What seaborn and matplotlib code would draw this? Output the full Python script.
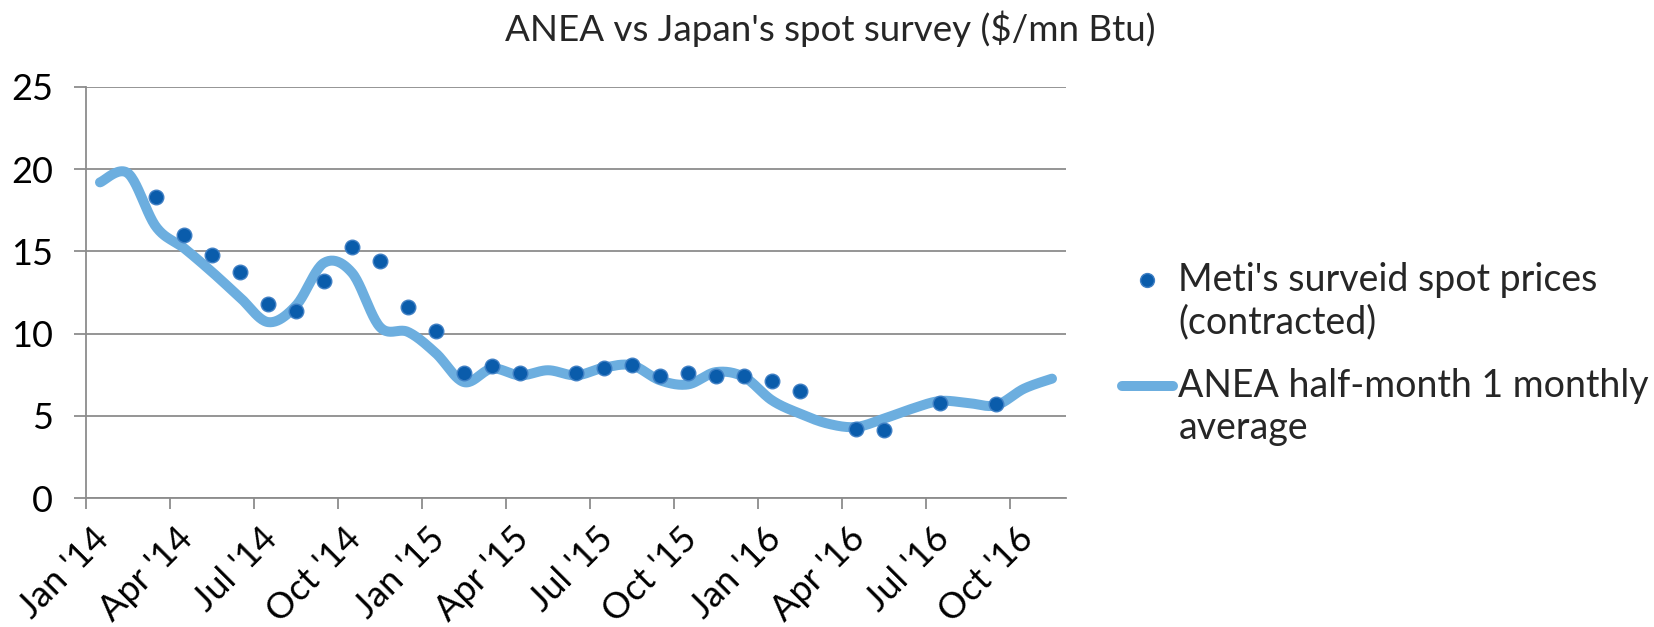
import numpy as np
import pandas as pd
import matplotlib
matplotlib.use("Agg")
import matplotlib.pyplot as plt
import matplotlib.transforms as mtransforms
from matplotlib.lines import Line2D
from matplotlib.legend_handler import HandlerLine2D
import seaborn as sns

# ---------------- data ----------------
month_labels = ["Jan '14", "Feb '14", "Mar '14", "Apr '14", "May '14", "Jun '14",
                "Jul '14", "Aug '14", "Sep '14", "Oct '14", "Nov '14", "Dec '14",
                "Jan '15", "Feb '15", "Mar '15", "Apr '15", "May '15", "Jun '15",
                "Jul '15", "Aug '15", "Sep '15", "Oct '15", "Nov '15", "Dec '15",
                "Jan '16", "Feb '16", "Mar '16", "Apr '16", "May '16", "Jun '16",
                "Jul '16", "Aug '16", "Sep '16", "Oct '16", "Nov '16"]

anea_values = [19.2, 19.75, 16.5, 15.2, 13.75, 12.2, 10.7, 11.7, 14.3, 13.7,
               10.4, 10.1, 8.8, 7.05, 7.87, 7.46, 7.77, 7.46, 7.93, 8.07,
               7.16, 6.91, 7.66, 7.36, 5.94, 5.13, 4.52, 4.32, 4.83, 5.43,
               5.9, 5.78, 5.64, 6.65, 7.26]

meti_values = [None, None, 18.29, 16.0, 14.76, 13.77, 11.78, 11.4, 13.18, 15.29,
               14.4, 11.6, 10.18, 7.6, 8.03, 7.6, None, 7.6, 7.93, 8.11,
               7.4, 7.6, 7.4, 7.4, 7.1, 6.49, None, 4.2, 4.12, None,
               5.8, None, 5.74, None, None]

tick_labels = ["Jan '14", "Apr '14", "Jul '14", "Oct '14", "Jan '15", "Apr '15",
               "Jul '15", "Oct '15", "Jan '16", "Apr '16", "Jul '16", "Oct '16"]

title = "ANEA vs Japan's spot survey ($/mn Btu)"
meti_label = "Meti's surveid spot prices\n(contracted)"
anea_label = "ANEA half-month 1 monthly\naverage"

# ---------------- frame ----------------
pos = np.arange(len(month_labels)) + 0.5   # points sit mid-month on date axis
df = pd.DataFrame({"x": pos, "anea": anea_values,
                   "meti": pd.to_numeric(pd.Series(meti_values), errors="coerce")})


def smooth_curve(x, y, n=24):
    """Excel-like smoothed line (Catmull-Rom / Bezier, tension 1/6)."""
    x = np.asarray(x, float); y = np.asarray(y, float)
    px = np.concatenate([[x[0]], x, [x[-1]]])
    py = np.concatenate([[y[0]], y, [y[-1]]])
    xs, ys = [], []
    t = np.linspace(0, 1, n, endpoint=False)
    for i in range(1, len(px) - 2):
        p0 = np.array([px[i], py[i]]); p3 = np.array([px[i + 1], py[i + 1]])
        c1 = p0 + (np.array([px[i + 1], py[i + 1]]) - np.array([px[i - 1], py[i - 1]])) / 6
        c2 = p3 - (np.array([px[i + 2], py[i + 2]]) - np.array([px[i], py[i]])) / 6
        b = ((1 - t) ** 3)[:, None] * p0 + (3 * (1 - t) ** 2 * t)[:, None] * c1 \
            + (3 * (1 - t) * t ** 2)[:, None] * c2 + (t ** 3)[:, None] * p3
        xs.append(b[:, 0]); ys.append(b[:, 1])
    xs.append([x[-1]]); ys.append([y[-1]])
    return np.concatenate(xs), np.concatenate(ys)


sx, sy = smooth_curve(df["x"], df["anea"])
curve = pd.DataFrame({"x": sx, "y": sy})

# ---------------- plot ----------------
sns.set_theme(style="white")
plt.rcParams["font.family"] = ["Lato", "DejaVu Sans"]

W, H, DPI = 1654, 627, 100
fig = plt.figure(figsize=(W / DPI, H / DPI), dpi=DPI)
ax = fig.add_axes([86 / W, 1 - 498 / H, (1066 - 86) / W, (498 - 87) / H])

line_color = "#6CAEDF"
dot_color = "#0A5CAB"
dot_edge = "#3F7FC4"
grid_color = "#8C8C8C"

sns.lineplot(data=curve, x="x", y="y", ax=ax, color=line_color, linewidth=7.2,
             sort=False, estimator=None, solid_capstyle="round", zorder=2)
sns.scatterplot(data=df.dropna(subset=["meti"]), x="x", y="meti", ax=ax,
                color=dot_color, s=110, edgecolor=dot_edge, linewidth=1.0, zorder=3)

ax.set_xlim(0, 35)
ax.set_ylim(0, 25)
ax.set_yticks(np.arange(0, 26, 5))
ax.set_xticks(np.arange(0, 35, 3))
ax.set_xticklabels(tick_labels)
ax.set_xlabel("")
ax.set_ylabel("")

ax.grid(axis="y", color=grid_color, linewidth=1.3)
ax.set_axisbelow(True)
for s in ["top", "right"]:
    ax.spines[s].set_visible(False)
for s in ["left", "bottom"]:
    ax.spines[s].set_color(grid_color)
    ax.spines[s].set_linewidth(1.3)

ax.tick_params(axis="y", direction="out", length=8.6, width=1.3, color=grid_color,
               labelsize=26, pad=15, left=True, labelcolor="black")
ax.tick_params(axis="x", direction="out", length=8, width=1.3, color=grid_color,
               labelsize=26, pad=9, bottom=True, labelcolor="black")

offset = mtransforms.ScaledTranslation(6 / DPI, 0, fig.dpi_scale_trans)
for lab in ax.get_xticklabels():
    lab.set_rotation(45)
    lab.set_ha("right")
    lab.set_va("top")
    lab.set_rotation_mode("anchor")
    lab.set_transform(lab.get_transform() + offset)

fig.suptitle(title, x=0.502, y=1 - 29 / H, va="center", fontsize=26.5)


class FirstLineHandler(HandlerLine2D):
    """Align the legend key with the first line of a two-line label."""
    def __init__(self, dy_px, **kw):
        super().__init__(**kw)
        self.dy_px = dy_px

    def create_artists(self, legend, orig_handle, xdescent, ydescent, width,
                       height, fontsize, trans):
        trans = trans + mtransforms.Affine2D().translate(0, self.dy_px)
        return super().create_artists(legend, orig_handle, xdescent, ydescent,
                                      width, height, fontsize, trans)


h_dot = Line2D([], [], linestyle="none", marker="o", markersize=10,
               markerfacecolor=dot_color, markeredgecolor=dot_edge)
h_line = Line2D([], [], color=line_color, linewidth=7.2, solid_capstyle="round")
leg = fig.legend([h_dot, h_line], [meti_label, anea_label], loc="upper left",
                 bbox_to_anchor=(1122 / W, 1 - 262 / H), frameon=False,
                 fontsize=27, handlelength=1.35, handletextpad=0.15,
                 labelspacing=0.75, borderaxespad=0, borderpad=0,
                 handler_map={Line2D: FirstLineHandler(22.5)})

fig.savefig("out.png", dpi=DPI, facecolor="white")
